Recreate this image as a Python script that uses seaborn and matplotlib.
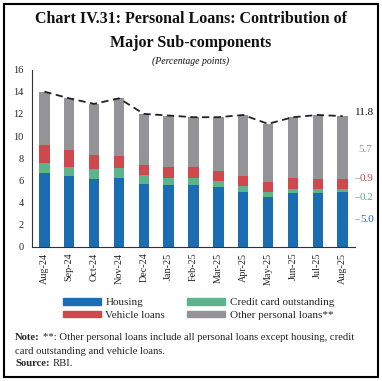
import numpy as np
import pandas as pd
import matplotlib
matplotlib.use("Agg")
import matplotlib.pyplot as plt
import seaborn as sns
from matplotlib.patches import Patch, Rectangle

months = ["Aug-24", "Sep-24", "Oct-24", "Nov-24", "Dec-24", "Jan-25", "Feb-25",
          "Mar-25", "Apr-25", "May-25", "Jun-25", "Jul-25", "Aug-25"]
housing = [6.7, 6.4, 6.15, 6.25, 5.65, 5.6, 5.6, 5.45, 5.0, 4.55, 4.85, 4.9, 5.0]
credit_card = [0.9, 0.85, 0.85, 0.9, 0.8, 0.65, 0.6, 0.5, 0.5, 0.45, 0.4, 0.3, 0.2]
vehicle = [1.6, 1.45, 1.3, 1.05, 0.95, 1.0, 1.0, 0.9, 0.9, 0.9, 1.0, 0.95, 0.9]
other = [4.8, 4.7, 4.6, 5.2, 4.6, 4.6, 4.5, 4.85, 5.5, 5.2, 5.45, 5.75, 5.7]
series_names = ["Housing", "Credit card outstanding", "Vehicle loans", "Other personal loans**"]
end_labels = ["5.0", "0.2", "0.9", "5.7"]
total_label = "11.8"

colors = ["#1b6db3", "#5db48a", "#cf484e", "#949498"]

sns.set_style("white")
plt.rcParams["font.family"] = ["Liberation Serif", "DejaVu Serif"]

fig = plt.figure(figsize=(3.82, 3.81), dpi=100)
ax = fig.add_axes([32 / 382, 1 - 247 / 381, 323 / 382, 177.5 / 381])

df = pd.DataFrame({"month": months, "Housing": housing, "Credit": credit_card,
                   "Vehicle": vehicle, "Other": other})
bottom = np.zeros(len(months))
for col, c in zip(["Housing", "Credit", "Vehicle", "Other"], colors):
    sns.barplot(data=df, x="month", y=col, bottom=bottom, color=c, width=0.42,
                ax=ax, saturation=1, linewidth=0)
    bottom = bottom + df[col].values
totals = bottom
sns.lineplot(x=np.arange(len(months)), y=totals, ax=ax, color="#222222",
             linestyle=(0, (4, 2.5)), linewidth=1.3)

ax.set_xlim(-0.5, len(months) - 0.5)
ax.set_ylim(0, 16)
ax.set_yticks(range(0, 17, 2))
ax.set_xlabel("")
ax.set_ylabel("")
ax.set_xticks(np.arange(-0.5, len(months), 1), minor=False)
ax.set_xticklabels([])
ax.set_xticks(np.arange(len(months)), minor=True)
ax.set_xticklabels(months, minor=True, rotation=90, fontsize=7.3)
ax.tick_params(axis="x", which="major", direction="out", length=4, width=0.8, color="#333333")
ax.tick_params(axis="x", which="minor", length=0, pad=4)
ax.tick_params(axis="y", direction="out", length=4, width=0.8, labelsize=7.5, color="#333333", pad=2)
for s in ["top", "right"]:
    ax.spines[s].set_visible(False)
for s in ["left", "bottom"]:
    ax.spines[s].set_color("#333333")
    ax.spines[s].set_linewidth(0.8)

# end labels
tx = len(months) - 0.5 + 0.05
ax.text(tx - 0.05, totals[-1] + 0.35, total_label, color="#111111", fontsize=8, va="center", ha="left")
ax.text(tx + 0.1, 8.8, end_labels[3], color=colors[3], fontsize=8, va="center", ha="left")
lab_y = [2.5, 4.5, 6.2]
for i, ly in enumerate(lab_y):
    ax.plot([len(months) - 0.5, tx + 0.1], [ly, ly], color="#aaaaaa", lw=0.6, clip_on=False)
    ax.text(tx + 0.15, ly, end_labels[i], color=colors[i], fontsize=8, va="center", ha="left")

# titles
fig.text(0.5, 1 - 19 / 381, "Chart IV.31: Personal Loans: Contribution of", ha="center",
         va="center", fontsize=11.5, fontweight="bold", color="#111111")
fig.text(0.5, 1 - 43 / 381, "Major Sub-components", ha="center", va="center",
         fontsize=11.5, fontweight="bold", color="#111111")
fig.text(0.5, 1 - 61 / 381, "(Percentage points)", ha="center", va="center",
         fontsize=7, style="italic", color="#111111")

handles = [Patch(color=colors[0]), Patch(color=colors[2]), Patch(color=colors[1]), Patch(color=colors[3])]
labels = [series_names[0], series_names[2], series_names[1], series_names[3]]
fig.legend(handles, labels, ncol=2, loc="center", bbox_to_anchor=(0.52, 1 - 309 / 381),
           frameon=False, fontsize=8, handlelength=3.4, handleheight=0.55,
           columnspacing=2.0, labelspacing=0.3, handletextpad=0.4)

fs = 7.7
renderer = fig.canvas.get_renderer()


def bold_then_plain(x_px, y_px, bold, plain):
    t = fig.text(x_px / 382, 1 - y_px / 381, bold, fontsize=fs, fontweight="bold", va="center")
    bb = t.get_window_extent(renderer=renderer)
    fig.text(bb.x1 / 382 + 3 / 382, 1 - y_px / 381, plain, fontsize=fs, va="center")


bold_then_plain(15, 338, "Note:",
                "**: Other personal loans include all personal loans except housing, credit")
fig.text(15 / 382, 1 - 351 / 381, "card outstanding and vehicle loans.", fontsize=fs, va="center")
bold_then_plain(15, 364, "Source:", "RBI.")

fig.patches.append(Rectangle((4 / 382, 4 / 381), 374 / 382, 373 / 381, transform=fig.transFigure,
                             fill=False, edgecolor="black", linewidth=1.5))

fig.savefig("out.png", dpi=100)
